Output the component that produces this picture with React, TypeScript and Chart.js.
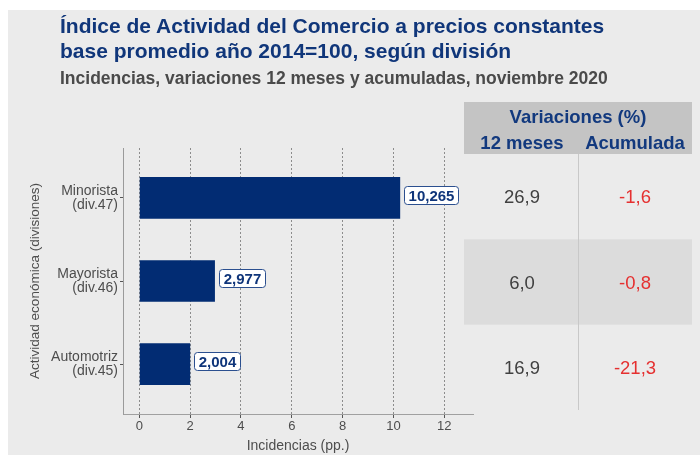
import React, { useEffect, useRef } from 'react';
import { Chart, registerables } from 'chart.js';

Chart.register(...registerables);

const categories = [
  ['Minorista', '(div.47)'],
  ['Mayorista', '(div.46)'],
  ['Automotriz', '(div.45)'],
];
const incidencias = [10.265, 2.977, 2.004];
const var12 = [26.9, 6.0, 16.9];
const varAcum = [-1.6, -0.8, -21.3];
const xTicks = [0, 2, 4, 6, 8, 10, 12];

const FONT = "'Liberation Sans', Arial, Helvetica, sans-serif";
const fmt = (v: number, d: number) => v.toFixed(d).replace('.', ',');

const overlay = {
  id: 'overlay',
  afterDatasetsDraw(chart: any) {
    const ctx = chart.ctx;
    const meta = chart.getDatasetMeta(0);
    ctx.save();
    ctx.font = `bold 15px ${FONT}`;
    meta.data.forEach((bar: any, i: number) => {
      const txt = fmt(incidencias[i], 3);
      const tw = ctx.measureText(txt).width;
      const w = Math.round(tw + 8);
      const h = 18;
      const x0 = Math.round(bar.x + 4);
      const yc = Math.round(bar.y - 3);
      ctx.beginPath();
      ctx.roundRect(x0 + 0.5, yc - h / 2 + 0.5, w, h, 3);
      ctx.fillStyle = '#ffffff';
      ctx.fill();
      ctx.strokeStyle = '#2b4f8f';
      ctx.lineWidth = 1;
      ctx.stroke();
      ctx.fillStyle = '#0f357a';
      ctx.textAlign = 'center';
      ctx.textBaseline = 'alphabetic';
      ctx.fillText(txt, x0 + w / 2 + 0.5, yc + 15 * 0.358 + 0.5);
    });
    ctx.restore();
  },
  afterDraw(chart: any) {
    const ctx = chart.ctx;
    ctx.save();
    const left = 456, right = 684, hTop = 92, hBot = 144, tBot = 400, mid = 570;
    const col1 = 514, col2 = 627;
    const n = var12.length;
    const rowH = (tBot - hBot) / n;
    ctx.fillStyle = '#c4c4c4';
    ctx.fillRect(left, hTop, right - left, hBot - hTop);
    for (let i = 0; i < n; i++) {
      if (i % 2 === 1) {
        ctx.fillStyle = '#dcdcdc';
        ctx.fillRect(left, hBot + i * rowH, right - left, rowH);
      }
    }
    ctx.strokeStyle = '#c8c8c8';
    ctx.lineWidth = 1;
    ctx.beginPath();
    ctx.moveTo(mid + 0.5, hBot);
    ctx.lineTo(mid + 0.5, tBot);
    ctx.stroke();
    ctx.textAlign = 'center';
    ctx.textBaseline = 'alphabetic';
    ctx.fillStyle = '#12397e';
    const hs = 18.5;
    ctx.font = `bold ${hs}px ${FONT}`;
    ctx.fillText('Variaciones (%)', mid, 106 + hs * 0.358);
    ctx.fillText('12 meses', col1, 132 + hs * 0.358);
    ctx.fillText('Acumulada', col2, 132 + hs * 0.358);
    const vs = 18.5;
    ctx.font = `${vs}px ${FONT}`;
    for (let i = 0; i < n; i++) {
      const yc = hBot + (i + 0.5) * rowH;
      ctx.fillStyle = var12[i] < 0 ? '#e53030' : '#404040';
      ctx.fillText(fmt(var12[i], 1), col1, yc + vs * 0.358);
      ctx.fillStyle = varAcum[i] < 0 ? '#e53030' : '#404040';
      ctx.fillText(fmt(varAcum[i], 1), col2, yc + vs * 0.358);
    }
    ctx.restore();
  },
};

export default function App() {
  const ref = useRef<HTMLCanvasElement | null>(null);
  useEffect(() => {
    document.body.style.overflow = 'hidden';
    const chart = new Chart(ref.current as HTMLCanvasElement, {
      type: 'bar',
      data: {
        datasets: [
          {
            data: incidencias.map((v, i) => ({ x: v, y: i + 1 })),
            backgroundColor: '#022c73',
            borderWidth: 0,
            barPercentage: 0.5,
            categoryPercentage: 1,
          } as any,
        ],
      },
      options: {
        indexAxis: 'y',
        responsive: false,
        animation: false,
        layout: { padding: { top: 138, right: 227, left: 0, bottom: 0 } },
        plugins: {
          legend: { display: false },
          tooltip: { enabled: false },
          title: { display: false },
        },
        scales: {
          x: {
            type: 'linear',
            position: 'bottom',
            min: -0.64,
            max: 13.13,
            offset: false,
            afterBuildTicks: (s: any) => {
              s.ticks = xTicks.map((v) => ({ value: v }));
            },
            afterFit: (s: any) => {
              s.height = 41;
            },
            grid: {
              offset: false,
              color: '#8c8c8c',
              lineWidth: 1,
              drawTicks: true,
              tickLength: 4,
              tickColor: '#555555',
              tickBorderDash: [],
              tickWidth: 1,
            },
            border: { display: true, color: '#a0a0a0', width: 1, dash: [2, 2] },
            ticks: {
              font: { family: FONT, size: 13 },
              color: '#4d4d4d',
              padding: 1,
              maxRotation: 0,
              autoSkip: false,
              callback: (v: any) => String(v),
            },
            title: {
              display: true,
              text: 'Incidencias (pp.)',
              font: { family: FONT, size: 14 },
              color: '#4d4d4d',
              padding: { top: 6, bottom: 0 },
            },
          },
          y: {
            type: 'linear',
            position: 'left',
            reverse: true,
            min: 0.4,
            max: 3.6,
            offset: false,
            afterBuildTicks: (s: any) => {
              s.ticks = categories.map((_, i) => ({ value: i + 1 }));
            },
            afterFit: (s: any) => {
              s.width = 115;
            },
            grid: {
              offset: false,
              drawOnChartArea: false,
              drawTicks: true,
              tickLength: 3,
              tickColor: '#555555',
            },
            border: { display: true, color: '#9a9a9a', width: 1 },
            ticks: {
              font: { family: FONT, size: 14, lineHeight: 1.0 },
              color: '#4d4d4d',
              padding: 2,
              autoSkip: false,
              callback: (v: any) => categories[Math.round(v) - 1] as any,
            },
            title: {
              display: true,
              text: 'Actividad económica (divisiones)',
              font: { family: FONT, size: 13.5 },
              color: '#4d4d4d',
              padding: { top: 19, bottom: 0 },
            },
          },
        },
      } as any,
      plugins: [overlay],
    });
    return () => chart.destroy();
  }, []);

  return (
    <div
      style={{
        position: 'absolute',
        left: 8,
        top: 10,
        width: 692,
        height: 445,
        background: '#ebebeb',
        overflow: 'hidden',
      }}
    >
      <canvas ref={ref} width={692} height={445} style={{ position: 'absolute', left: 0, top: 0 }} />
      <div
        style={{
          position: 'absolute',
          left: 52,
          top: 3,
          fontFamily: FONT,
          fontWeight: 'bold',
          fontSize: 21,
          lineHeight: '25px',
          color: '#10367a',
          whiteSpace: 'nowrap',
        }}
      >
        Índice de Actividad del Comercio a precios constantes
        <br />
        base promedio año 2014=100, según división
      </div>
      <div
        style={{
          position: 'absolute',
          left: 52,
          top: 57,
          fontFamily: FONT,
          fontWeight: 'bold',
          fontSize: 17.5,
          lineHeight: '22px',
          color: '#4a4a4a',
          whiteSpace: 'nowrap',
        }}
      >
        Incidencias, variaciones 12 meses y acumuladas, noviembre 2020
      </div>
    </div>
  );
}
